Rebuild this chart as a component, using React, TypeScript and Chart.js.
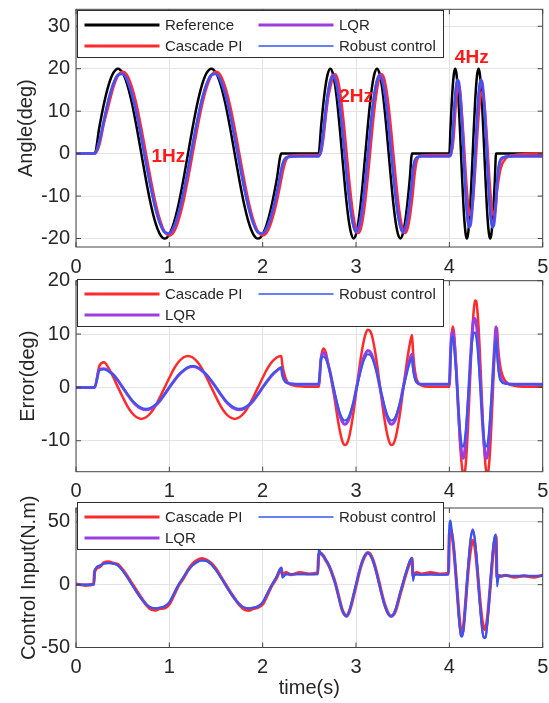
import React, { useEffect, useRef } from "react";
import { Chart, registerables } from "chart.js";

Chart.register(...registerables);

// ---------------- shared time grid (s) ----------------
const timeS = [
  0, 0.1, 0.19,
  0.2, 0.25, 0.3, 0.35, 0.4, 0.45, 0.5, 0.55, 0.6, 0.65,
  0.7, 0.75, 0.8, 0.85, 0.9, 0.95, 1, 1.05, 1.1, 1.15,
  1.2, 1.25, 1.3, 1.35, 1.4, 1.45, 1.5, 1.55, 1.6, 1.65,
  1.7, 1.75, 1.8, 1.85, 1.9, 1.95, 2, 2.05, 2.1, 2.15,
  2.2,
  2.21, 2.25, 2.3, 2.4, 2.5, 2.59,
  2.6, 2.625, 2.65, 2.675, 2.7, 2.725, 2.75, 2.775, 2.8, 2.825,
  2.85, 2.875, 2.9, 2.925, 2.95, 2.975, 3, 3.025, 3.05, 3.075,
  3.1, 3.125, 3.15, 3.175, 3.2, 3.225, 3.25, 3.275, 3.3, 3.325,
  3.35, 3.375, 3.4, 3.425, 3.45, 3.475, 3.5, 3.525, 3.55, 3.575,
  3.6,
  3.61, 3.625, 3.65, 3.7, 3.8, 3.9, 3.99,
  4, 4.0125, 4.025, 4.0375, 4.05, 4.0625, 4.075, 4.0875, 4.1, 4.1125,
  4.125, 4.1375, 4.15, 4.1625, 4.175, 4.1875, 4.2, 4.2125, 4.225, 4.2375,
  4.25, 4.2625, 4.275, 4.2875, 4.3, 4.3125, 4.325, 4.3375, 4.35, 4.3625,
  4.375, 4.3875, 4.4, 4.4125, 4.425, 4.4375, 4.45, 4.4625, 4.475, 4.4875,
  4.5,
  4.51, 4.525, 4.55, 4.6, 4.7, 4.8, 4.9, 5,
];

// ---------------- Angle (deg) ----------------
const angleReference = [
  0, 0, 0,
  0, 6.2, 11.8, 16.2, 19, 20, 19, 16.2, 11.8, 6.2,
  0, -6.2, -11.8, -16.2, -19, -20, -19, -16.2, -11.8, -6.2,
  0, 6.2, 11.8, 16.2, 19, 20, 19, 16.2, 11.8, 6.2,
  0, -6.2, -11.8, -16.2, -19, -20, -19, -16.2, -11.8, -6.2,
  0,
  0, 0, 0, 0, 0, 0,
  0, 6.2, 11.8, 16.2, 19, 20, 19, 16.2, 11.8, 6.2,
  0, -6.2, -11.8, -16.2, -19, -20, -19, -16.2, -11.8, -6.2,
  0, 6.2, 11.8, 16.2, 19, 20, 19, 16.2, 11.8, 6.2,
  0, -6.2, -11.8, -16.2, -19, -20, -19, -16.2, -11.8, -6.2,
  0,
  0, 0, 0, 0, 0, 0, 0,
  0, 6.2, 11.8, 16.2, 19, 20, 19, 16.2, 11.8, 6.2,
  0, -6.2, -11.8, -16.2, -19, -20, -19, -16.2, -11.8, -6.2,
  0, 6.2, 11.8, 16.2, 19, 20, 19, 16.2, 11.8, 6.2,
  0, -6.2, -11.8, -16.2, -19, -20, -19, -16.2, -11.8, -6.2,
  0,
  0, 0, 0, 0, 0, 0, 0, 0,
];

const angleCascade = [
  0, 0, 0,
  0, 2.0, 7.2, 11.4, 15.6, 18.4, 19.3, 18.4, 15.6, 11.4,
  6.0, 0, -6.0, -11.4, -15.6, -18.4, -19.3, -18.4, -15.6, -11.4,
  -6.0, 0, 6.0, 11.4, 15.6, 18.4, 19.3, 18.4, 15.6, 11.4,
  6.0, 0, -6.0, -11.4, -15.6, -18.4, -19.3, -18.4, -15.6, -11.4,
  -6.0,
  -4.8, -1.5, -0.5, -0.3, -0.3, -0.3,
  -0.3, 0.3, 3.5, 8.5, 13.0, 15.6, 17.8, 18.7, 17.8, 15.1,
  11.0, 5.8, 0, -5.8, -11.0, -15.1, -17.8, -18.7, -17.8, -15.1,
  -11.0, -5.8, 0, 5.8, 11.0, 15.1, 17.8, 18.7, 17.8, 15.1,
  11.0, 5.8, 0, -5.8, -11.0, -15.1, -17.8, -18.7, -17.8, -15.1,
  -11.0,
  -9.0, -5.5, -1.8, -0.5, -0.3, -0.3, -0.3,
  -0.3, -0.3, 0.5, 2.0, 5.0, 9.4, 12.9, 15.2, 16.0, 15.0,
  12.2, 8.6, 4.5, 0, -4.5, -8.5, -11.7, -13.8, -14.5, -13.8,
  -11.7, -8.5, -4.5, 0, 4.5, 8.5, 11.7, 13.8, 14.5, 13.8,
  11.7, 8.5, 4.5, 0, -4.5, -8.5, -11.7, -13.8, -14.5, -13.8,
  -11.7,
  -9.0, -6.5, -3.5, -1.2, -0.3, -0.1, 0, 0,
];

const angleLQR = [
  0, 0, 0,
  0, 2.8, 7.8, 12.7, 16.4, 18.5, 18.8, 17.3, 14.0, 9.4,
  3.9, -2.0, -7.7, -12.7, -16.4, -18.5, -18.8, -17.3, -14.0, -9.4,
  -3.9, 2.0, 7.7, 12.7, 16.4, 18.5, 18.8, 17.3, 14.0, 9.4,
  3.9, -2.0, -7.7, -12.7, -16.4, -18.5, -18.8, -17.3, -14.0, -9.4,
  -3.9,
  -2.8, -1.0, -0.7, -0.6, -0.6, -0.6,
  -0.6, 0.8, 4.8, 9.8, 14.2, 17.1, 18.5, 17.9, 15.7, 11.9,
  6.9, 1.3, -4.5, -9.8, -14.2, -17.1, -18.5, -17.9, -15.7, -11.9,
  -6.9, -1.3, 4.5, 9.8, 14.2, 17.1, 18.5, 17.9, 15.7, 11.9,
  6.9, 1.3, -4.5, -9.8, -14.2, -17.1, -18.5, -17.9, -15.7, -11.9,
  -6.9,
  -4.2, -2.2, -1.0, -0.6, -0.6, -0.6, -0.6,
  -0.6, -0.4, 1.0, 3.9, 8.9, 13.1, 15.9, 17.2, 16.9, 14.8,
  11.3, 6.8, 1.5, -3.9, -8.9, -13.1, -15.9, -17.2, -16.9, -14.8,
  -11.3, -6.8, -1.5, 3.9, 8.9, 13.1, 15.9, 17.2, 16.9, 14.8,
  11.3, 6.8, 1.5, -3.9, -8.9, -13.1, -15.9, -17.2, -16.9, -14.8,
  -11.3,
  -7.5, -4.2, -1.6, -0.8, -0.6, -0.6, -0.6, -0.6,
];

const angleRobust = [
  0, 0, 0,
  0, 3.0, 8.0, 12.9, 16.5, 18.6, 18.8, 17.1, 13.8, 9.2,
  3.6, -2.3, -8.0, -12.9, -16.5, -18.6, -18.8, -17.1, -13.8, -9.2,
  -3.6, 2.3, 8.0, 12.9, 16.5, 18.6, 18.8, 17.1, 13.8, 9.2,
  3.6, -2.3, -8.0, -12.9, -16.5, -18.6, -18.8, -17.1, -13.8, -9.2,
  -3.6,
  -2.6, -0.9, -0.7, -0.6, -0.6, -0.6,
  -0.6, 1.0, 6.0, 10.8, 14.8, 17.4, 18.3, 17.4, 14.8, 10.8,
  5.7, 0, -5.7, -10.8, -14.8, -17.4, -18.3, -17.4, -14.8, -10.8,
  -5.7, 0, 5.7, 10.8, 14.8, 17.4, 18.3, 17.4, 14.8, 10.8,
  5.7, 0, -5.7, -10.8, -14.8, -17.4, -18.3, -17.4, -14.8, -10.8,
  -5.7,
  -3.5, -1.8, -0.9, -0.6, -0.6, -0.6, -0.6,
  -0.6, -0.3, 1.5, 5.4, 10.3, 14.2, 16.6, 17.5, 16.6, 14.2,
  10.3, 5.4, 0, -5.4, -10.3, -14.2, -16.6, -17.5, -16.6, -14.2,
  -10.3, -5.4, 0, 5.4, 10.3, 14.2, 16.6, 17.5, 16.6, 14.2,
  10.3, 5.4, 0, -5.4, -10.3, -14.2, -16.6, -17.5, -16.6, -14.2,
  -10.3,
  -6.5, -3.2, -1.2, -0.7, -0.6, -0.6, -0.6, -0.6,
];

// ---------------- Error (deg) ----------------
const errorCascade = [
  0, 0, 0,
  0, 4.0, 4.7, 3.6, 1.9, 0, -1.8, -3.5, -4.8, -5.6,
  -5.9, -5.6, -4.8, -3.5, -1.8, 0, 1.8, 3.5, 4.8, 5.6,
  5.9, 5.6, 4.8, 3.5, 1.8, 0, -1.8, -3.5, -4.8, -5.6,
  -5.9, -5.6, -4.8, -3.5, -1.8, 0, 1.8, 3.5, 4.8, 5.6,
  5.9,
  4.3, 1.5, 0.5, 0.2, 0.1, 0.1,
  0.1, 5.5, 7.3, 6.6, 4.6, 2.4, 0.0, -2.6, -5.5, -8.0,
  -9.9, -10.8, -10.6, -9.4, -7.2, -4.4, -1.1, 2.3, 5.4, 8.0,
  9.9, 10.8, 10.6, 9.4, 7.2, 4.4, 1.1, -2.3, -5.4, -8.0,
  -9.9, -10.8, -10.6, -9.4, -7.2, -4.4, -1.1, 2.3, 5.4, 8.0,
  9.8,
  7.0, 4.0, 1.5, 0.4, 0.1, 0.1, 0.1,
  0.1, 6.0, 10.0, 11.4, 10.2, 7.0, 3.0, -1.5, -6.0, -10.0,
  -13.0, -15.3, -16.5, -16.2, -14.5, -11.5, -7.3, -2.4, 2.7, 7.6,
  11.7, 14.7, 16.3, 16.2, 14.5, 11.5, 7.3, 2.4, -2.7, -7.6,
  -11.7, -14.7, -16.3, -16.2, -14.5, -11.5, -7.3, -2.4, 2.7, 7.6,
  11.2,
  11.0, 7.0, 3.5, 1.2, 0.3, 0.1, 0.1, 0.1,
];

const errorLQR = [
  0, 0, 0,
  0, 3.3, 3.5, 3.1, 2.4, 1.3, 0, -1.3, -2.5, -3.4,
  -4.0, -4.2, -4.0, -3.4, -2.5, -1.3, 0, 1.2, 2.3, 3.1,
  3.7, 3.9, 3.7, 3.1, 2.3, 1.2, 0, -1.3, -2.5, -3.4,
  -4.0, -4.2, -4.0, -3.4, -2.5, -1.3, 0, 1.2, 2.3, 3.1,
  3.7,
  2.5, 1.0, 0.7, 0.6, 0.6, 0.6,
  0.6, 5.3, 6.5, 6.0, 4.4, 2.7, 0.5, -1.6, -3.6, -5.2,
  -6.3, -6.9, -6.7, -5.9, -4.4, -2.7, -0.5, 1.6, 3.6, 5.2,
  6.3, 6.9, 6.7, 5.9, 4.4, 2.7, 0.5, -1.6, -3.6, -5.2,
  -6.3, -6.9, -6.7, -5.9, -4.4, -2.7, -0.5, 1.6, 3.6, 5.2,
  6.2,
  4.2, 2.4, 1.0, 0.6, 0.6, 0.6, 0.6,
  0.6, 6.3, 9.8, 10.5, 9.0, 6.3, 3.1, -1.0, -5.1, -8.6,
  -11.3, -13.0, -13.3, -12.3, -10.1, -6.9, -3.1, 1.0, 5.1, 8.6,
  11.3, 12.8, 12.9, 12.0, 10.1, 6.9, 3.1, -1.0, -5.1, -8.6,
  -11.3, -13.0, -13.3, -12.3, -10.1, -6.9, -3.1, 1.0, 5.1, 8.6,
  11.3,
  8.5, 4.5, 1.7, 0.8, 0.6, 0.6, 0.6, 0.6,
];

const errorRobust = [
  0, 0, 0,
  0, 3.2, 3.4, 3.0, 2.3, 1.2, 0, -1.2, -2.4, -3.2,
  -3.8, -4.0, -3.8, -3.2, -2.4, -1.2, 0, 1.2, 2.4, 3.2,
  3.8, 4.0, 3.8, 3.2, 2.4, 1.2, 0, -1.2, -2.4, -3.2,
  -3.8, -4.0, -3.8, -3.2, -2.4, -1.2, 0, 1.2, 2.4, 3.2,
  3.8,
  2.4, 0.9, 0.7, 0.6, 0.6, 0.6,
  0.6, 5.2, 5.8, 5.4, 4.2, 2.6, 0.7, -1.2, -3.0, -4.6,
  -5.7, -6.2, -6.1, -5.4, -4.2, -2.6, -0.7, 1.2, 3.0, 4.6,
  5.7, 6.2, 6.1, 5.4, 4.2, 2.6, 0.7, -1.2, -3.0, -4.6,
  -5.7, -6.2, -6.1, -5.4, -4.2, -2.6, -0.7, 1.2, 3.0, 4.6,
  5.5,
  3.6, 2.0, 0.9, 0.6, 0.6, 0.6, 0.6,
  0.6, 6.0, 9.0, 9.5, 7.6, 5.0, 2.0, -1.3, -4.7, -7.7,
  -9.9, -11.0, -11.1, -10.1, -8.0, -5.2, -2.0, 1.3, 4.5, 7.3,
  9.3, 10.3, 10.3, 9.4, 7.5, 4.8, 1.7, -1.6, -4.9, -7.9,
  -10.0, -11.0, -11.1, -10.1, -8.0, -5.2, -2.0, 1.3, 4.5, 7.3,
  9.0,
  6.5, 3.2, 1.2, 0.7, 0.6, 0.6, 0.6, 0.5,
];

// ---------------- Control input (N.m) ----------------
const controlCascade = [
  0.5, -0.5, 0.5,
  10.5, 14.0, 17.5, 18.2, 17.0, 16.0, 11.8, 6.5, 0.8, -5.0,
  -10.5, -15.8, -19.5, -20.2, -19.0, -18.5, -15.5, -8.0, -0.5, 5.0,
  11.5, 16.5, 19.5, 20.8, 19.5, 17.0, 12.5, 6.5, 0.5, -5.5,
  -11.0, -16.0, -19.5, -20.5, -19.0, -18.0, -15.5, -8.0, -0.5, 5.5,
  13.0,
  8.0, 9.5, 8.0, 9.5, 8.5, 9.5,
  24.0, 25.0, 23.0, 19.5, 16.5, 12.5, 7.5, 2.0, -5.0, -12.5,
  -19.5, -23.5, -24.8, -22.0, -16.0, -8.5, -1.0, 7.0, 14.0, 19.5,
  23.5, 25.5, 24.5, 21.0, 15.5, 8.5, 1.0, -7.0, -14.0, -19.5,
  -23.5, -25.0, -24.0, -20.5, -14.0, -7.0, -0.5, 6.0, 12.0, 17.5,
  21.0,
  7.0, 8.5, 9.5, 8.5, 9.5, 8.5, 9.0,
  40.0, 43.0, 41.0, 35.0, 26.0, 15.0, 3.0, -9.0, -21.0, -31.0,
  -37.5, -39.5, -35.0, -25.0, -13.5, -1.0, 10.0, 19.5, 27.0, 32.5,
  35.0, 34.0, 29.5, 21.5, 11.5, 0.5, -10.5, -20.0, -28.0, -33.0,
  -35.5, -35.0, -31.0, -23.0, -13.0, -2.0, 9.5, 20.5, 30.0, 36.0,
  38.0,
  6.0, 7.5, 6.5, 7.5, 6.0, 7.0, 6.0, 7.5,
];

const controlLQR = [
  0, 0, 0,
  11.0, 15.0, 16.8, 17.2, 16.8, 15.2, 11.2, 5.9, 0, -5.9,
  -11.2, -15.4, -18.1, -18.8, -18.3, -17.2, -14.0, -7.0, 0, 5.9,
  11.2, 15.4, 18.1, 19.3, 18.8, 16.0, 11.5, 6.0, 0, -5.9,
  -11.2, -15.4, -18.1, -18.8, -18.3, -17.2, -14.0, -7.0, 0, 6.5,
  13.5,
  7.0, 8.3, 8.5, 8.3, 8.5, 8.4,
  26.0, 24.5, 22.5, 20.0, 17.0, 12.5, 7.0, 1.5, -5.5, -13.0,
  -20.0, -24.0, -25.5, -22.0, -15.5, -8.0, 0, 7.7, 14.7, 20.2,
  23.8, 25.2, 23.8, 20.2, 14.7, 7.7, 0, -7.7, -14.7, -20.2,
  -23.8, -25.5, -24.0, -19.5, -13.0, -6.0, 0.5, 7.0, 13.0, 18.5,
  21.0,
  5.0, 7.8, 8.2, 8.0, 8.2, 8.0, 8.1,
  42.0, 46.0, 42.0, 35.0, 27.0, 15.5, 3.0, -10.0, -23.5, -34.5,
  -40.5, -41.0, -36.0, -25.5, -13.5, 0, 13.3, 25.3, 34.8, 40.9,
  44.0, 40.9, 34.8, 25.3, 13.3, 0, -13.3, -25.3, -34.8, -40.9,
  -42.5, -42.0, -36.0, -26.0, -14.0, -1.0, 12.0, 23.5, 33.0, 38.5,
  40.0,
  2.0, 6.5, 7.2, 7.0, 7.0, 7.0, 7.0, 7.0,
];

const controlRobust = [
  0, 0, 0,
  11.0, 15.0, 16.8, 17.2, 16.8, 15.2, 11.2, 5.9, 0, -5.9,
  -11.2, -15.4, -18.1, -18.8, -18.3, -17.2, -14.0, -7.0, 0, 5.9,
  11.2, 15.4, 18.1, 19.3, 18.8, 16.0, 11.5, 6.0, 0, -5.9,
  -11.2, -15.4, -18.1, -18.8, -18.3, -17.2, -14.0, -7.0, 0, 6.5,
  13.5,
  5.5, 8.0, 8.2, 8.2, 8.2, 8.2,
  28.5, 24.5, 22.5, 20.0, 17.0, 12.5, 7.0, 1.5, -5.5, -13.0,
  -20.0, -24.0, -25.0, -21.5, -15.0, -7.5, 0, 7.7, 14.7, 20.2,
  23.8, 25.2, 23.8, 20.2, 14.7, 7.7, 0, -7.7, -14.7, -20.2,
  -23.8, -25.0, -23.8, -19.5, -13.0, -6.0, 0.5, 7.0, 13.0, 18.5,
  21.5,
  3.0, 7.5, 8.0, 7.8, 8.0, 7.8, 8.0,
  48.0, 51.0, 44.0, 36.0, 28.0, 16.0, 3.0, -10.0, -24.0, -35.0,
  -41.0, -41.5, -36.0, -25.5, -13.5, 0, 13.3, 25.3, 34.8, 40.9,
  43.0, 40.9, 34.8, 25.3, 13.3, 0, -13.3, -25.3, -34.8, -40.9,
  -42.5, -42.0, -36.0, -26.0, -14.0, -1.0, 12.0, 23.5, 33.0, 38.5,
  39.5,
  -1.5, 5.0, 7.0, 7.0, 6.8, 7.0, 6.8, 7.0,
];

// ---------------- ticks ----------------
const timeTicks = [0, 1, 2, 3, 4, 5];
const angleTicks = [-20, -10, 0, 10, 20, 30];
const errorTicks = [-10, 0, 10, 20];
const controlTicks = [-50, 0, 50];

// ---------------- styling ----------------
const FONT_FAMILY = '"Liberation Sans", Arial, Helvetica, sans-serif';
const TEXT_COLOR = "#262626";
const COLOR_REFERENCE = "#000000";
const COLOR_CASCADE = "#ff2a2a";
const COLOR_LQR = "#9b3ee0";
const COLOR_ROBUST = "#3557f0";

interface SeriesDef { label: string; values: number[]; color: string; width: number; }
interface LegendEntry { label: string; color: string; width: number; col: number; row: number; }
interface NoteDef { text: string; x: number; y: number; }
interface PanelDef {
  series: SeriesDef[];
  yMin: number; yMax: number; yTicks: number[];
  yTitle: string; yTitlePad: number;
  top: number; bottom: number; xHeight: number;
  xTitle?: string;
  legendTop: number; legend: LegendEntry[];
  notes: NoteDef[];
}

const refSeries: SeriesDef = { label: "Reference", values: angleReference, color: COLOR_REFERENCE, width: 2.5 };

const legendFour: LegendEntry[] = [
  { label: "Reference", color: COLOR_REFERENCE, width: 3, col: 0, row: 0 },
  { label: "LQR", color: COLOR_LQR, width: 3, col: 1, row: 0 },
  { label: "Cascade PI", color: COLOR_CASCADE, width: 3, col: 0, row: 1 },
  { label: "Robust control", color: COLOR_ROBUST, width: 1.5, col: 1, row: 1 },
];
const legendThree: LegendEntry[] = [
  { label: "Cascade PI", color: COLOR_CASCADE, width: 3, col: 0, row: 0 },
  { label: "Robust control", color: COLOR_ROBUST, width: 1.5, col: 1, row: 0 },
  { label: "LQR", color: COLOR_LQR, width: 3, col: 0, row: 1 },
];

const panels: PanelDef[] = [
  {
    series: [
      refSeries,
      { label: "Cascade PI", values: angleCascade, color: COLOR_CASCADE, width: 2.5 },
      { label: "LQR", values: angleLQR, color: COLOR_LQR, width: 3 },
      { label: "Robust control", values: angleRobust, color: COLOR_ROBUST, width: 2 },
    ],
    yMin: -22, yMax: 34, yTicks: angleTicks,
    yTitle: "Angle(deg)", yTitlePad: 14,
    top: 9.3, bottom: 247, xHeight: 32,
    legendTop: 10, legend: legendFour,
    notes: [
      { text: "1Hz", x: 0.99, y: -0.8 },
      { text: "2Hz", x: 3.0, y: 13.4 },
      { text: "4Hz", x: 4.24, y: 22.5 },
    ],
  },
  {
    series: [
      { label: "Cascade PI", values: errorCascade, color: COLOR_CASCADE, width: 2.5 },
      { label: "LQR", values: errorLQR, color: COLOR_LQR, width: 3 },
      { label: "Robust control", values: errorRobust, color: COLOR_ROBUST, width: 2 },
    ],
    yMin: -15.8, yMax: 20, yTicks: errorTicks,
    yTitle: "Error(deg)", yTitlePad: 16,
    top: 280.7, bottom: 471.7, xHeight: 32,
    legendTop: 279.3, legend: legendThree,
    notes: [],
  },
  {
    series: [
      { label: "Cascade PI", values: controlCascade, color: COLOR_CASCADE, width: 3.2 },
      { label: "LQR", values: controlLQR, color: COLOR_LQR, width: 2.2 },
      { label: "Robust control", values: controlRobust, color: COLOR_ROBUST, width: 2 },
    ],
    yMin: -50, yMax: 61, yTicks: controlTicks,
    yTitle: "Control Input(N.m)", yTitlePad: 17.5,
    top: 508, bottom: 647.5, xHeight: 55, xTitle: "time(s)",
    legendTop: 501.7, legend: legendThree,
    notes: [],
  },
];

const W = 549;
const H = 703;
const AXIS_LEFT = 76;
const AXIS_RIGHT_PAD = 6.3;

function frameLegendPlugin(panel: PanelDef) {
  return {
    id: "frameLegend",
    afterDatasetsDraw(chart: any) {
      const { ctx, chartArea } = chart;
      const { left, right, top, bottom } = chartArea;
      const xs = chart.scales.x;
      const ys = chart.scales.y;
      ctx.save();
      // axes box
      ctx.strokeStyle = "#444444";
      ctx.lineWidth = 1;
      ctx.strokeRect(left, top, right - left, bottom - top);
      // inner tick marks on all four sides
      const tl = 5;
      ctx.beginPath();
      timeTicks.forEach((v) => {
        const px = xs.getPixelForValue(v);
        ctx.moveTo(px, bottom); ctx.lineTo(px, bottom - tl);
        ctx.moveTo(px, top); ctx.lineTo(px, top + tl);
      });
      panel.yTicks.forEach((v) => {
        const py = ys.getPixelForValue(v);
        ctx.moveTo(left, py); ctx.lineTo(left + tl, py);
        ctx.moveTo(right, py); ctx.lineTo(right - tl, py);
      });
      ctx.stroke();
      // frequency annotations
      ctx.fillStyle = "#ff1a1a";
      ctx.font = `bold 19px ${FONT_FAMILY}`;
      ctx.textAlign = "center";
      ctx.textBaseline = "middle";
      panel.notes.forEach((n) => {
        ctx.fillText(n.text, xs.getPixelForValue(n.x), ys.getPixelForValue(n.y));
      });
      // legend box
      const bx = 77.5;
      const by = Math.round(panel.legendTop) + 0.5;
      const bw = 366;
      const bh = 47;
      ctx.fillStyle = "#ffffff";
      ctx.fillRect(bx, by, bw, bh);
      ctx.strokeStyle = "#2e2e2e";
      ctx.lineWidth = 1;
      ctx.strokeRect(bx, by, bw, bh);
      ctx.font = `15px ${FONT_FAMILY}`;
      ctx.textAlign = "left";
      ctx.textBaseline = "middle";
      panel.legend.forEach((e) => {
        const y = by + (e.row === 0 ? 14.5 : 35.5);
        const x0 = bx + (e.col === 0 ? 7 : 181);
        ctx.strokeStyle = e.color;
        ctx.lineWidth = e.width;
        ctx.lineCap = "butt";
        ctx.beginPath();
        ctx.moveTo(x0, y);
        ctx.lineTo(x0 + 75, y);
        ctx.stroke();
        ctx.fillStyle = TEXT_COLOR;
        ctx.fillText(e.label, x0 + 80.5, y + 1);
      });
      ctx.restore();
    },
  };
}

function buildChart(canvas: HTMLCanvasElement, panel: PanelDef) {
  const n = panel.series.length;
  const datasets = panel.series.map((s, i) => ({
    label: s.label,
    data: timeS.map((t, j) => ({ x: t, y: s.values[j] })),
    borderColor: s.color,
    backgroundColor: s.color,
    borderWidth: s.width,
    pointRadius: 0,
    pointHoverRadius: 0,
    fill: false,
    cubicInterpolationMode: "monotone" as const,
    borderJoinStyle: "round" as const,
    borderCapStyle: "round" as const,
    order: n - i,
  }));
  const tickFont = { family: FONT_FAMILY, size: 20 };
  return new Chart(canvas, {
    type: "line",
    data: { datasets },
    plugins: [frameLegendPlugin(panel)],
    options: {
      animation: false,
      responsive: false,
      events: [],
      layout: {
        padding: {
          left: 0,
          right: AXIS_RIGHT_PAD,
          top: panel.top,
          bottom: H - panel.bottom - panel.xHeight,
        },
      },
      plugins: { legend: { display: false }, tooltip: { enabled: false } },
      scales: {
        x: {
          type: "linear",
          min: 0,
          max: 5,
          afterBuildTicks: (s: any) => { s.ticks = timeTicks.map((v) => ({ value: v })); },
          afterFit: (s: any) => {
            s.height = panel.xHeight;
            s.paddingLeft = 0;
            s.paddingRight = 0;
          },
          grid: { color: "#e4e4e4", lineWidth: 1, drawTicks: false },
          border: { display: false },
          ticks: {
            padding: 8,
            color: TEXT_COLOR,
            font: tickFont,
            maxRotation: 0,
            autoSkip: false,
            callback: (v: any) => String(v),
          },
          title: panel.xTitle
            ? { display: true, text: panel.xTitle, color: TEXT_COLOR, font: { family: FONT_FAMILY, size: 20 }, padding: { top: 0, bottom: 2.2 } }
            : { display: false },
        },
        y: {
          type: "linear",
          min: panel.yMin,
          max: panel.yMax,
          afterBuildTicks: (s: any) => { s.ticks = panel.yTicks.map((v) => ({ value: v })); },
          afterFit: (s: any) => {
            s.width = AXIS_LEFT;
            s.paddingTop = 0;
            s.paddingBottom = 0;
          },
          grid: { color: "#e4e4e4", lineWidth: 1, drawTicks: false },
          border: { display: false },
          ticks: {
            padding: 6,
            color: TEXT_COLOR,
            font: tickFont,
            autoSkip: false,
            callback: (v: any) => String(v),
          },
          title: {
            display: true,
            text: panel.yTitle,
            color: TEXT_COLOR,
            font: { family: FONT_FAMILY, size: 20 },
            padding: { top: panel.yTitlePad, bottom: 0 },
          },
        },
      },
    } as any,
  });
}

export default function App() {
  const ref0 = useRef<HTMLCanvasElement>(null);
  const ref1 = useRef<HTMLCanvasElement>(null);
  const ref2 = useRef<HTMLCanvasElement>(null);

  useEffect(() => {
    const canvases = [ref0.current, ref1.current, ref2.current];
    const charts: Chart[] = [];
    canvases.forEach((c, i) => {
      if (c) charts.push(buildChart(c, panels[i]));
    });
    return () => charts.forEach((ch) => ch.destroy());
  }, []);

  const canvasStyle: React.CSSProperties = { position: "absolute", left: 0, top: 0, width: W, height: H };
  return (
    <div style={{ position: "absolute", left: 0, top: 0, width: W, height: H, background: "#ffffff" }}>
      <canvas ref={ref0} width={W} height={H} style={canvasStyle} />
      <canvas ref={ref1} width={W} height={H} style={canvasStyle} />
      <canvas ref={ref2} width={W} height={H} style={canvasStyle} />
    </div>
  );
}
